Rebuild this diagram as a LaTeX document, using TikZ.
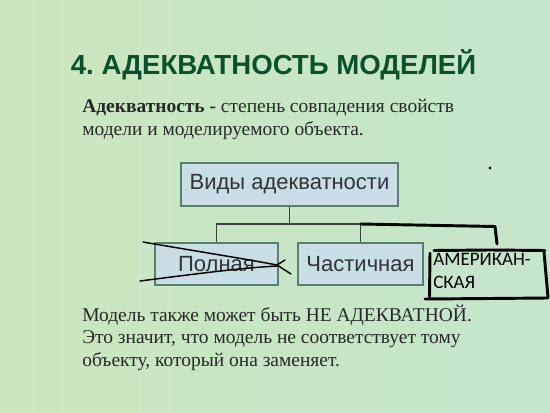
\documentclass[tikz,border=0pt]{standalone}
\usepackage{fontspec}
\setmainfont{Liberation Serif}
\newfontfamily\headfont{Liberation Sans}[BoldFont={Liberation Sans Bold}]
\newfontfamily\handfont{Carlito}
\usetikzlibrary{positioning}

\definecolor{bgleft}{RGB}{204,230,190}
\definecolor{bgright}{RGB}{196,230,204}
\definecolor{titlegreen}{RGB}{8,82,42}
\definecolor{boxfill}{RGB}{200,222,228}
\definecolor{boxline}{RGB}{84,128,110}
\definecolor{boxtext}{RGB}{48,52,56}
\definecolor{bodytext}{RGB}{38,42,38}

\tikzset{
  kind/.style={draw=boxline, fill=boxfill, line width=1.5pt, text=boxtext,
    font=\headfont\fontsize{16.5}{18}\selectfont, minimum height=31.5pt, inner sep=0pt},
  tree/.style={draw=black!75, line width=1.1pt},
  pen/.style={draw=black, line width=2.2pt, line cap=round, line join=round},
  scribble/.style={draw=black, line width=1.1pt, line cap=round},
  bodyline/.style={anchor=base west, inner sep=0pt, text=bodytext,
    font=\fontsize{14.6}{17}\selectfont},
}

\begin{document}
\begin{tikzpicture}[x=0.75pt,y=0.75pt,yscale=-1]
\useasboundingbox (0,0) rectangle (550,413);

%Background
\shade[left color=bgleft, right color=bgright] (0,0) rectangle (550,413);

% Title
\node (title) [anchor=base, inner sep=0pt, text=titlegreen, font=\headfont\bfseries\fontsize{20.7}{24}\selectfont] at (273.5,75) {4.~АДЕКВАТНОСТЬ МОДЕЛЕЙ};

% Definition
\node (def1) [bodyline] at (82,113) {\textbf{Адекватность -} степень совпадения свойств};
\node (def2) [bodyline] at (82,136) {модели и моделируемого объекта.};

% Tree boxes
\node (vid) [kind, minimum width=162.75pt, minimum height=32.25pt] at (289.5,184.5) {Виды адекватности};
\node (poln) [kind, minimum width=92.25pt] at (216.5,264) {Полная};
\node (chast) [kind, minimum width=93.75pt] at (360.5,264) {Частичная};

\coordinate (split) at (289.5,224);
\draw [tree] (vid.south) -- (split);
\draw [tree] (poln.north) |- (split) -| (chast.north);

% Hand-drawn additions
\coordinate (hook) at (497,244);
\draw [pen] (split -| chast) -- (495,226.5) -- (hook);

\node (amer) [anchor=north west, inner sep=0pt, align=left, text=black, font=\handfont\fontsize{14.25}{17.25}\selectfont] at (433,253) {АМЕРИКАН-\\СКАЯ};
\draw [pen] (434,250.5) -- (490,250) -- (545,250.5);
\draw [pen] (430,253) -- (429.5,297);
\draw [pen] (425,299) -- (490,298.5) -- (548,298);
\draw [pen] (544,252) -- (548,297);

%Strike over Полная
\draw [scribble] (143,242) .. controls (195,251) and (240,258) .. (277,265);
\draw [scribble] (140,281) .. controls (195,274) and (240,268) .. (277,266);
\draw [scribble] (277,265) -- (285,260);
\draw [scribble] (277,265) -- (291,274);

\fill (490,168) circle (1.6);

% Closing text
\node (neg1) [bodyline] at (82,322) {Модель также может быть НЕ АДЕКВАТНОЙ.};
\node (neg2) [bodyline] at (82,344) {Это значит, что модель не соответствует тому};
\node (neg3) [bodyline] at (82,367) {объекту, который она заменяет.};

\end{tikzpicture}
\end{document}
